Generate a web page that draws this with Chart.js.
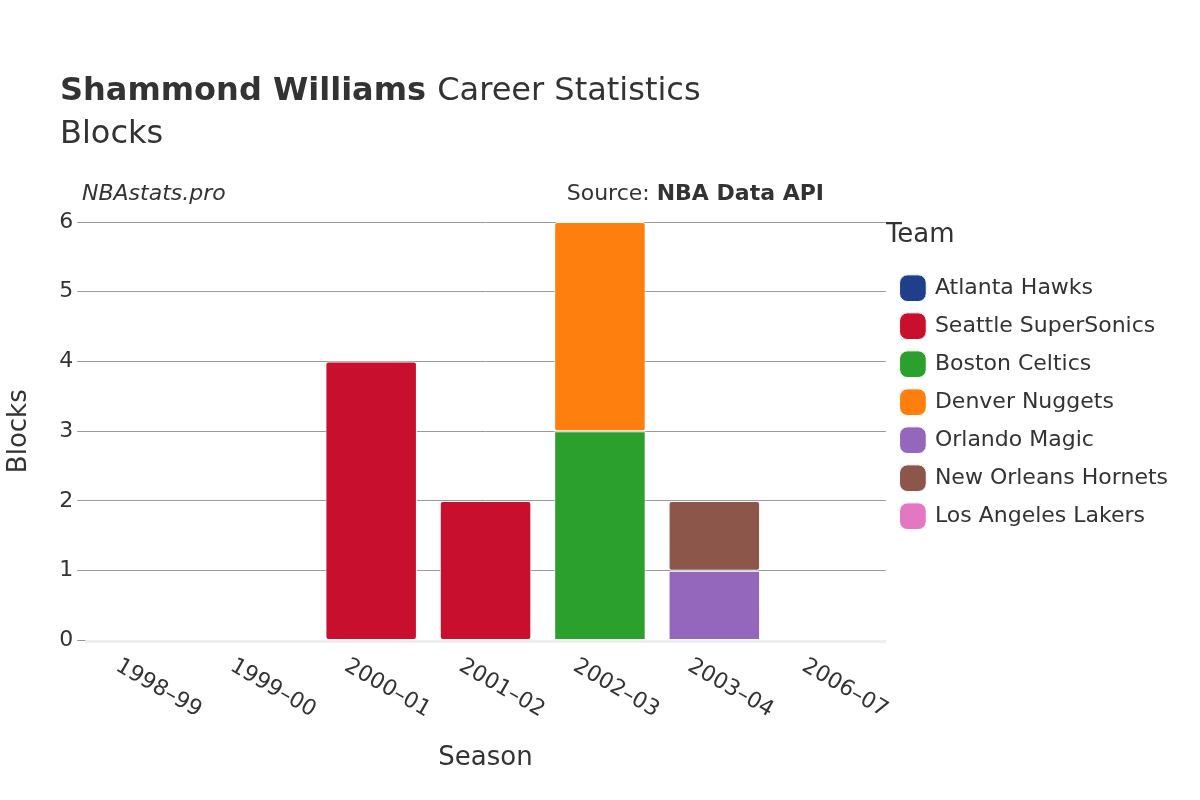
<!DOCTYPE html>
<html><head><meta charset="utf-8">
<script src="https://cdn.jsdelivr.net/npm/chart.js@4"></script>
<style>html,body{margin:0;background:#fff}#w{width:1200px;height:800px}</style>
</head><body><div id="w"><canvas id="c" width="1200" height="800"></canvas></div>
<script>
const seasons = ["1998–99","1999–00","2000–01","2001–02","2002–03","2003–04","2006–07"];
const teams = ["Atlanta Hawks","Seattle SuperSonics","Boston Celtics","Denver Nuggets","Orlando Magic","New Orleans Hornets","Los Angeles Lakers"];
const colors = ["#1f3f8a","#c8102e","#2ca02c","#ff7f0e","#9467bd","#8c564b","#e377c2"];
const hawks   = [0,0,null,null,null,null,null];
const sonics  = [null,null,4,2,null,null,null];
const celtics = [null,null,null,null,3,null,null];
const nuggets = [null,null,null,null,3,null,null];
const magic   = [null,null,null,null,null,1,null];
const hornets = [null,null,null,null,null,1,null];
const lakers  = [null,null,null,null,null,null,0];
const yTicks = [0,1,2,3,4,5,6];
const series = [hawks,sonics,celtics,nuggets,magic,hornets,lakers];
const F = "'DejaVu Sans',sans-serif";
const txt = {
  id:'txt',
  afterDraw(ch){
    const c=ch.ctx; c.save(); c.fillStyle='#333'; c.textBaseline='alphabetic';
    c.font="bold 32px "+F; c.fillText("Shammond Williams",60,100);
    const w=c.measureText("Shammond Williams ").width;
    c.font="32px "+F; c.fillText("Career Statistics",60+w,100);
    c.fillText("Blocks",60,143);
    c.font="italic 22px "+F; c.fillText("NBAstats.pro",82,200);
    c.textAlign='right'; c.font="bold 22px "+F; c.fillText("NBA Data API",824,200);
    const bw=c.measureText("NBA Data API").width;
    c.font="22px "+F; c.fillText("Source: ",824-bw,200);
    const xs=ch.scales.x, ys=ch.scales.y;
    c.strokeStyle='#eee'; c.lineWidth=3; c.beginPath(); c.moveTo(xs.left,ys.bottom+1); c.lineTo(xs.right,ys.bottom+1); c.stroke();
    c.font="22px "+F; c.textAlign='left'; c.textBaseline='middle';
    seasons.forEach((s,i)=>{const x=xs.getPixelForValue(i);
      c.save(); c.translate(x-25,ys.bottom+24); c.rotate(Math.PI/6); c.fillText(s,0,0); c.restore();});
    c.restore();
  }
};
new Chart(document.getElementById('c'),{
  type:'bar',
  data:{labels:seasons,datasets:series.map((d,i)=>({label:teams[i],data:d,backgroundColor:colors[i],borderColor:'#fff',borderWidth:1,borderRadius:3,borderSkipped:false}))},
  options:{responsive:false,animation:false,
    layout:{padding:{top:222,left:0,right:22,bottom:22}},
    datasets:{bar:{barPercentage:0.8,categoryPercentage:1}},
    plugins:{tooltip:{enabled:false},
      legend:{position:'right',align:'start',
        title:{display:true,text:'Team',position:'start',color:'#333',font:{family:F,size:26},padding:{top:0,bottom:8}},
        labels:{color:'#333',font:{family:F,size:22},boxWidth:22,boxHeight:22,padding:16,usePointStyle:true,pointStyle:'rectRounded'}}},
    scales:{
      x:{stacked:true,grid:{display:false},border:{display:false},
        ticks:{color:'rgba(0,0,0,0)',font:{family:F,size:22},minRotation:30,maxRotation:30,padding:10},
        title:{display:true,text:'Season',color:'#333',font:{family:F,size:26},padding:{top:4}}},
      y:{stacked:true,min:0,max:6,afterBuildTicks(a){a.ticks=yTicks.map(v=>({value:v}));},
        grid:{color:'#999'},border:{display:false},
        ticks:{color:'#333',font:{family:F,size:22},padding:4},
        title:{display:true,text:'Blocks',color:'#333',font:{family:F,size:26},padding:{bottom:20}}}
    }},
  plugins:[txt]
});
</script></body></html>
